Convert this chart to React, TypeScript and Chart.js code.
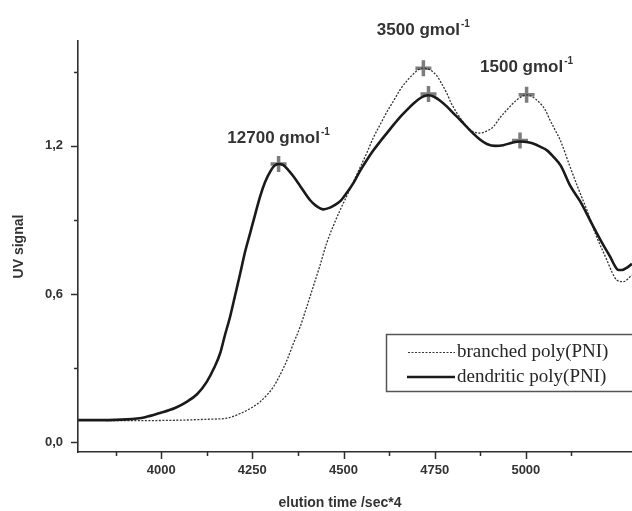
import { useEffect, useRef } from "react";
import { Chart, registerables } from "chart.js";

Chart.register(...registerables);

// ---- data ----
const dendriticTime = [3773, 3833, 3906, 3956, 3997, 4038, 4070, 4099, 4125, 4145, 4162, 4175, 4189, 4203, 4217, 4230, 4244, 4258, 4271, 4285, 4299, 4310, 4322, 4334, 4348, 4363, 4381, 4408, 4425, 4445, 4463, 4478, 4491, 4509, 4527, 4545, 4564, 4582, 4600, 4619, 4637, 4655, 4674, 4692, 4710, 4722, 4733, 4748, 4765, 4783, 4801, 4820, 4838, 4856, 4874, 4893, 4916, 4938, 4962, 4984, 5006, 5025, 5039, 5058, 5075, 5096, 5121, 5149, 5185, 5209, 5231, 5244, 5254, 5264, 5275, 5291];
const dendriticSignal = [0.089, 0.089, 0.092, 0.101, 0.118, 0.138, 0.163, 0.195, 0.244, 0.3, 0.361, 0.434, 0.508, 0.596, 0.685, 0.77, 0.847, 0.924, 0.994, 1.054, 1.096, 1.119, 1.127, 1.123, 1.103, 1.076, 1.038, 0.981, 0.957, 0.943, 0.95, 0.962, 0.976, 1.01, 1.049, 1.098, 1.143, 1.182, 1.217, 1.252, 1.285, 1.317, 1.346, 1.372, 1.393, 1.402, 1.405, 1.399, 1.383, 1.36, 1.333, 1.305, 1.277, 1.25, 1.226, 1.208, 1.2, 1.203, 1.213, 1.218, 1.215, 1.207, 1.197, 1.182, 1.157, 1.119, 1.04, 0.975, 0.873, 0.807, 0.751, 0.714, 0.697, 0.697, 0.705, 0.722];

const branchedTime = [3773, 3915, 4052, 4134, 4180, 4217, 4244, 4271, 4290, 4308, 4326, 4345, 4362, 4381, 4399, 4417, 4436, 4454, 4472, 4491, 4509, 4527, 4545, 4564, 4582, 4600, 4619, 4637, 4655, 4674, 4692, 4707, 4719, 4737, 4756, 4768, 4783, 4795, 4811, 4828, 4847, 4874, 4894, 4911, 4929, 4948, 4975, 5002, 5020, 5039, 5053, 5066, 5080, 5094, 5121, 5143, 5167, 5192, 5222, 5236, 5249, 5267, 5291];
const branchedSignal = [0.089, 0.087, 0.089, 0.093, 0.097, 0.116, 0.136, 0.163, 0.191, 0.224, 0.272, 0.332, 0.397, 0.467, 0.547, 0.63, 0.718, 0.807, 0.876, 0.941, 0.997, 1.054, 1.111, 1.172, 1.234, 1.285, 1.338, 1.382, 1.427, 1.464, 1.492, 1.51, 1.515, 1.508, 1.484, 1.455, 1.414, 1.374, 1.333, 1.297, 1.265, 1.252, 1.261, 1.278, 1.314, 1.346, 1.386, 1.407, 1.397, 1.373, 1.346, 1.305, 1.265, 1.224, 1.116, 1.03, 0.941, 0.839, 0.738, 0.689, 0.657, 0.65, 0.677];

const markerTime = [4322, 4719, 4733, 5002, 4984];
const markerSignal = [1.127, 1.515, 1.41, 1.407, 1.222];

const peakLabels = ["12700 gmol", "3500 gmol", "1500 gmol"];
const peakLabelMarker = [0, 1, 3];

const seriesNames = ["branched poly(PNI)", "dendritic poly(PNI)"];

const xMajorTicks = [4000, 4250, 4500, 4750, 5000];
const xMinorTicks = [3875, 4125, 4375, 4625, 4875, 5125];
const yMajorTicks = [0, 0.6, 1.2];
const yMinorTicks = [0.3, 0.9, 1.5];

const xTitle = "elution time /sec*4";
const yTitle = "UV signal";

const AXIS = "#2e2e2e";
const TEXT = "#333333";
const SANS = "'Liberation Sans', Arial, sans-serif";
const SERIF = "'Liberation Serif', 'Times New Roman', serif";

const tickMarksPlugin = {
  id: "tickMarks",
  afterDraw(chart: any) {
    const { ctx, chartArea, scales } = chart;
    ctx.save();
    ctx.strokeStyle = AXIS;
    ctx.lineWidth = 1.5;
    ctx.beginPath();
    for (const v of yMajorTicks) {
      const p = Math.round(scales.y.getPixelForValue(v)) + 0.5;
      ctx.moveTo(chartArea.left - 7, p);
      ctx.lineTo(chartArea.left, p);
    }
    for (const v of yMinorTicks) {
      const p = Math.round(scales.y.getPixelForValue(v)) + 0.5;
      ctx.moveTo(chartArea.left - 4, p);
      ctx.lineTo(chartArea.left, p);
    }
    for (const v of xMajorTicks) {
      const p = Math.round(scales.x.getPixelForValue(v)) + 0.5;
      ctx.moveTo(p, chartArea.bottom);
      ctx.lineTo(p, chartArea.bottom + 7);
    }
    for (const v of xMinorTicks) {
      const p = Math.round(scales.x.getPixelForValue(v)) + 0.5;
      ctx.moveTo(p, chartArea.bottom);
      ctx.lineTo(p, chartArea.bottom + 4);
    }
    ctx.stroke();
    // x-axis title (centred under the labelled part of the axis, as in the source)
    ctx.fillStyle = TEXT;
    ctx.font = `bold 14px ${SANS}`;
    ctx.textAlign = "center";
    ctx.textBaseline = "middle";
    ctx.fillText(xTitle, 340, 503);
    ctx.restore();
  },
};

const peakLabelPlugin = {
  id: "peakLabels",
  afterDraw(chart: any) {
    const { ctx, scales } = chart;
    const offsets = [-21, -33, -23];
    ctx.save();
    ctx.fillStyle = TEXT;
    ctx.textBaseline = "alphabetic";
    ctx.textAlign = "left";
    peakLabels.forEach((label, i) => {
      const m = peakLabelMarker[i];
      const cx = scales.x.getPixelForValue(markerTime[m]);
      const cy = scales.y.getPixelForValue(markerSignal[m]) + offsets[i];
      ctx.font = `bold 17px ${SANS}`;
      const w = ctx.measureText(label).width;
      ctx.font = `bold 10px ${SANS}`;
      const ws = ctx.measureText("-1").width;
      const x0 = cx - (w + ws + 1) / 2;
      ctx.font = `bold 17px ${SANS}`;
      ctx.fillText(label, x0, cy);
      ctx.font = `bold 10px ${SANS}`;
      ctx.fillText("-1", x0 + w + 1, cy - 8);
    });
    ctx.restore();
  },
};

const legendPlugin = {
  id: "boxLegend",
  afterDraw(chart: any) {
    const { ctx } = chart;
    ctx.save();
    ctx.fillStyle = "#ffffff";
    ctx.fillRect(386, 334, 260, 57);
    ctx.strokeStyle = "#555555";
    ctx.lineWidth = 1.5;
    ctx.strokeRect(386.5, 334.5, 260, 57);
    // dashed sample
    ctx.strokeStyle = "#333333";
    ctx.lineWidth = 1.2;
    ctx.setLineDash([2, 1.5]);
    ctx.beginPath();
    ctx.moveTo(408, 352.5);
    ctx.lineTo(455, 352.5);
    ctx.stroke();
    // solid sample
    ctx.setLineDash([]);
    ctx.strokeStyle = "#1a1a1a";
    ctx.lineWidth = 2.6;
    ctx.beginPath();
    ctx.moveTo(407, 377);
    ctx.lineTo(455, 377);
    ctx.stroke();
    ctx.fillStyle = "#262626";
    ctx.font = `19px ${SERIF}`;
    ctx.textBaseline = "middle";
    ctx.textAlign = "left";
    ctx.fillText(seriesNames[0], 457, 352);
    ctx.fillText(seriesNames[1], 457, 377);
    ctx.restore();
  },
};

export default function App() {
  const canvasRef = useRef<HTMLCanvasElement | null>(null);

  useEffect(() => {
    const canvas = canvasRef.current;
    if (!canvas) return;
    const chart = new Chart(canvas, {
      type: "line",
      data: {
        datasets: [
          {
            label: seriesNames[1],
            data: dendriticTime.map((t, i) => ({ x: t, y: dendriticSignal[i] })),
            borderColor: "#1a1a1a",
            borderWidth: 2.6,
            pointRadius: 0,
            cubicInterpolationMode: "monotone",
            fill: false,
          },
          {
            label: seriesNames[0],
            data: branchedTime.map((t, i) => ({ x: t, y: branchedSignal[i] })),
            borderColor: "#333333",
            borderWidth: 1.3,
            borderDash: [2, 1.5],
            pointRadius: 0,
            cubicInterpolationMode: "monotone",
            fill: false,
          },
          {
            type: "scatter",
            label: "peaks",
            data: markerTime.map((t, i) => ({ x: t, y: markerSignal[i] })),
            pointStyle: "cross",
            pointRadius: 8,
            pointBorderWidth: 3.5,
            borderColor: "#7d7d7d",
            backgroundColor: "#7d7d7d",
            showLine: false,
          } as any,
        ],
      },
      options: {
        responsive: false,
        animation: false,
        events: [],
        layout: { autoPadding: false, padding: { top: 41, right: 0, left: 0, bottom: 0 } },
        plugins: {
          legend: { display: false },
          tooltip: { enabled: false },
          title: { display: false },
        },
        scales: {
          x: {
            type: "linear",
            min: 3772,
            max: 5291,
            afterBuildTicks: (scale: any) => {
              scale.ticks = [...xMinorTicks, ...xMajorTicks]
                .sort((a, b) => a - b)
                .map((v) => ({ value: v }));
            },
            afterFit: (scale: any) => {
              scale.height = 59;
              scale.paddingLeft = 0;
              scale.paddingRight = 0;
            },
            grid: { display: false, drawTicks: true, tickLength: 11, tickColor: "rgba(0,0,0,0)" },
            border: { display: true, color: AXIS, width: 1.6 },
            ticks: {
              autoSkip: false,
              maxRotation: 0,
              padding: 0,
              color: TEXT,
              font: { family: SANS, size: 13, weight: "bold" },
              callback: (v: any) => (xMajorTicks.includes(Number(v)) ? String(v) : ""),
            },
            title: { display: false, text: xTitle },
          },
          y: {
            type: "linear",
            min: -0.04,
            max: 1.625,
            afterBuildTicks: (scale: any) => {
              scale.ticks = [...yMajorTicks, ...yMinorTicks]
                .sort((a, b) => a - b)
                .map((v) => ({ value: v }));
            },
            afterFit: (scale: any) => {
              scale.width = 78;
              scale.paddingTop = 0;
              scale.paddingBottom = 0;
            },
            grid: { display: false, drawTicks: false },
            border: { display: true, color: AXIS, width: 1.6 },
            ticks: {
              autoSkip: false,
              padding: 15,
              color: TEXT,
              font: { family: SANS, size: 13, weight: "bold" },
              callback: (v: any) =>
                yMajorTicks.some((m) => Math.abs(m - Number(v)) < 1e-9)
                  ? Number(v).toFixed(1).replace(".", ",")
                  : "",
            },
            title: {
              display: true,
              text: yTitle,
              color: TEXT,
              font: { family: SANS, size: 14, weight: "bold", lineHeight: 1 },
              padding: { top: 12, bottom: 0 },
            },
          },
        },
      },
      plugins: [tickMarksPlugin, peakLabelPlugin, legendPlugin],
    });
    return () => chart.destroy();
  }, []);

  return (
    <div style={{ position: "fixed", left: 0, top: 0, width: 632, height: 511, background: "#ffffff" }}>
      <canvas ref={canvasRef} width={632} height={511} style={{ display: "block", width: 632, height: 511 }} />
    </div>
  );
}
